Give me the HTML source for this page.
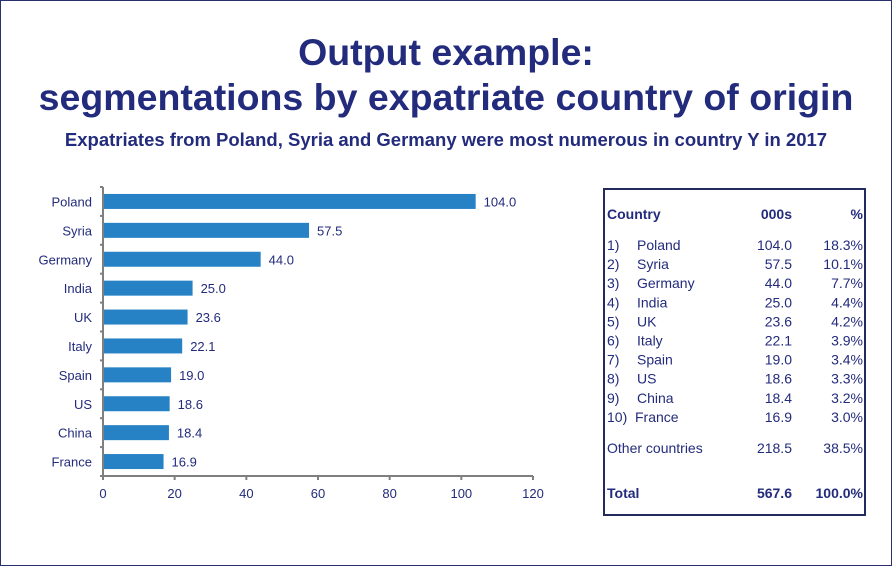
<!DOCTYPE html>
<html><head><meta charset="utf-8"><style>
body{margin:0;background:#fff}
#root{position:relative;width:890px;height:564px;border:1px solid #2a2f6e;overflow:hidden;font-family:"Liberation Sans",sans-serif;color:#232b7c}
.t{position:absolute;left:0;width:890px;text-align:center;font-weight:bold;white-space:nowrap}
</style></head><body>
<div id="root">
<div class="t" style="top:30px;font-size:37.5px">Output example:</div>
<div class="t" style="top:75px;font-size:37.5px">segmentations by expatriate country of origin</div>
<div class="t" style="top:128px;font-size:18.5px">Expatriates from Poland, Syria and Germany were most numerous in country Y in 2017</div>
<svg id="chart" style="position:absolute;left:0;top:0" width="580" height="520"></svg>
<svg id="tbl" style="position:absolute;left:0;top:0" width="890" height="564"></svg>
</div>
<script>
const categories=["Poland","Syria","Germany","India","UK","Italy","Spain","US","China","France"];
const values=[104.0,57.5,44.0,25.0,23.6,22.1,19.0,18.6,18.4,16.9];
const ticks=[0,20,40,60,80,100,120];
const pcts=["18.3%","10.1%","7.7%","4.4%","4.2%","3.9%","3.4%","3.3%","3.2%","3.0%"];
const otherVal="218.5",otherPct="38.5%",totalVal="567.6",totalPct="100.0%";
const NS="http://www.w3.org/2000/svg";
function mk(p,tag,a,txt){const e=document.createElementNS(NS,tag);for(const k in a)e.setAttribute(k,a[k]);if(txt!==undefined)e.textContent=txt;p.appendChild(e);return e;}
const svg=document.getElementById('chart');
const x0=102,x1=532,yTop=186,yBot=475,step=(yBot-yTop)/categories.length;
const xs=v=>x0+(v-ticks[0])/(ticks[ticks.length-1]-ticks[0])*(x1-x0);
const gc="#7f7f7f";
let l=mk(svg,'line',{x1:x0,y1:yTop,x2:x0,y2:yBot,stroke:gc,'stroke-width':2});


l=mk(svg,'line',{x1:x0,y1:yBot,x2:x1,y2:yBot,stroke:gc,'stroke-width':2});


for(let i=0;i<=categories.length;i++){mk(svg,'line',{x1:x0-3,y1:yTop+i*step,x2:x0,y2:yTop+i*step,stroke:gc,'stroke-width':2});}
ticks.forEach(t=>{
 mk(svg,'line',{x1:xs(t),y1:yBot,x2:xs(t),y2:yBot+4,stroke:gc,'stroke-width':2});
 const e=mk(svg,'text',{x:xs(t),y:yBot+22,'text-anchor':'middle','font-size':13,fill:'#232b7c'},t);
 
 
});
categories.forEach((c,i)=>{
 const cy=yTop+step*(i+0.5);
 const lab=mk(svg,'text',{x:x0-11,y:cy+5,'text-anchor':'end','font-size':13,fill:'#232b7c'},c);
 
 
 const b=mk(svg,'rect',{x:x0+1,y:cy-7.5,width:xs(values[i])-x0-1,height:15,fill:'#2782c5'});
 
 
 const v=mk(svg,'text',{x:xs(values[i])+8,y:cy+5,'font-size':13,fill:'#232b7c'},values[i].toFixed(1));
 
 
});
const tb=document.getElementById('tbl');
const box=mk(tb,'rect',{x:603,y:188,width:261,height:326,fill:'none',stroke:'#232b5e','stroke-width':2});


function txt(x,y,s,anchor,bold,name){const e=mk(tb,'text',{x:x,y:y,'text-anchor':anchor,'font-size':14,'font-weight':bold?'bold':'normal',fill:'#232b7c'},s);
 
 }
txt(606,218,"Country","start",true,'header-country');
txt(791,218,"000s","end",true,'header-000s');
txt(862,218,"%","end",true,'header-percent');
categories.forEach((c,i)=>{const y=249+i*19.1;
 txt(606,y,(i+1)+")","start",false,'table-rank');
 txt(i==9?634:636,y,c,"start",false,'table-country');
 txt(791,y,values[i].toFixed(1),"end",false,'table-value');
 txt(862,y,pcts[i],"end",false,'table-percent');});
txt(606,452,"Other countries","start",false,'other-label');
txt(791,452,otherVal,"end",false,'other-value');
txt(862,452,otherPct,"end",false,'other-percent');
txt(606,497,"Total","start",true,'total-label');
txt(791,497,totalVal,"end",true,'total-value');
txt(862,497,totalPct,"end",true,'total-percent');
</script>
</body></html>
